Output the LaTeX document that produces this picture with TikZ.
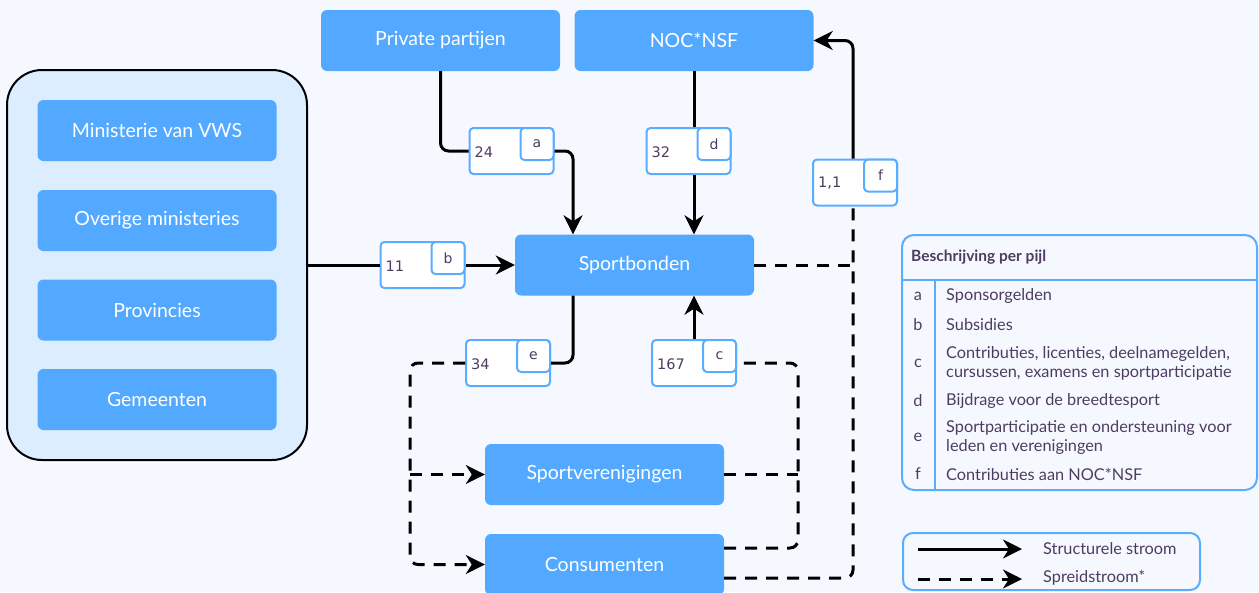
\documentclass[tikz,border=0pt]{standalone}
\usepackage{fontspec}
\setmainfont{Lato}
\newfontfamily\labf{DejaVu Sans}
\usetikzlibrary{arrows.meta}
\definecolor{boxblue}{RGB}{82,169,255}
\definecolor{bgc}{RGB}{245,249,255}
\definecolor{contfill}{RGB}{219,237,255}
\definecolor{txtc}{RGB}{78,60,96}
\definecolor{labblue}{RGB}{90,172,255}
\begin{document}
\begin{tikzpicture}[x=1pt,y=-1pt,
  box/.style={fill=boxblue,rounded corners=6pt,text=white,minimum width=239pt,minimum height=61pt,inner sep=0pt,font=\fontsize{19.5}{22}\selectfont},
  cont/.style={fill=contfill,draw=black,line width=2pt,rounded corners=35pt,minimum width=300pt,minimum height=390pt,inner sep=0pt},
  labbox/.style={fill=white,draw=labblue,line width=2pt,rounded corners=4pt,minimum width=84pt,minimum height=46pt,inner sep=0pt},
  labletter/.style={fill=white,draw=labblue,line width=2pt,rounded corners=4pt,minimum width=33pt,minimum height=32pt,inner sep=0pt,text=txtc,font=\labf\fontsize{14}{16}\selectfont},
  labnum/.style={text=txtc,inner sep=0pt,font=\labf\fontsize{14.5}{16}\selectfont},
  flow/.style={line width=3pt,rounded corners=8pt},
  dsh/.style={dash pattern=on 12pt off 9pt},
  arr/.style={-{Stealth[length=19pt,width=19pt,inset=6pt]}},
  legline/.style={draw=labblue,line width=2pt},
  legtxt/.style={text=txtc,inner sep=0pt,font=\fontsize{16.3}{19}\selectfont,align=left},
]
\fill[bgc] (0,0) rectangle (1259,592);
\useasboundingbox (0,0) rectangle (1259,592);

% main boxes
\node[box] (pp) at (440.5,40.5) {Private partijen};
\node[box] (noc) at (694,40.5) {NOC*NSF};
\node[cont] (gov) at (157,265) {};
\node[box] (vws) at (157,130.5) {Ministerie van VWS};
\node[box] (ovm) at (157,220.5) {Overige ministeries};
\node[box] (prov) at (157,310) {Provincies};
\node[box] (gem) at (157,399.5) {Gemeenten};
\node[box] (sb) at (634.5,265) {Sportbonden};
\node[box] (sv) at (604.5,474.5) {Sportverenigingen};
\node[box] (cons) at (604.5,564.5) {Consumenten};

% label boxes
\node[labbox] (l24) at (511.5,151) {};
\node[labnum,anchor=west] (n24) at ([xshift=6pt,yshift=-1pt]l24.west) {24};
\node[labletter,anchor=north east] (la) at (l24.north east) {a};

\node[labbox] (l32) at (688.5,151) {};
\node[labnum,anchor=west] (n32) at ([xshift=6pt,yshift=-1pt]l32.west) {32};
\node[labletter,anchor=north east] (ld) at (l32.north east) {d};

\node[labbox] (lf) at (855,182.5) {};
\node[labnum,anchor=west] (nf) at ([xshift=6pt,yshift=-1pt]lf.west) {1,1};
\node[labletter,anchor=north east] (lff) at (lf.north east) {f};

\node[labbox] (l11) at (422.5,265) {};
\node[labnum,anchor=west] (n11) at ([xshift=6pt,yshift=-1pt]l11.west) {11};
\node[labletter,anchor=north east] (lb) at (l11.north east) {b};

\node[labbox] (l34) at (508,363) {};
\node[labnum,anchor=west] (n34) at ([xshift=6pt,yshift=-1pt]l34.west) {34};
\node[labletter,anchor=north east] (le) at (l34.north east) {e};

\node[labbox] (l167) at (694,363) {};
\node[labnum,anchor=west] (n167) at ([xshift=6pt,yshift=-1pt]l167.west) {167};
\node[labletter,anchor=north east] (lc) at (l167.north east) {c};

% connectors
\draw[flow] (pp.south) |- (l24.west);
\draw[flow,arr] (l24.east) -| ([xshift=-61.5pt]sb.north);
\draw[flow] (noc.south) -- (noc.south |- l32.north);
\draw[flow,arr] (noc.south |- l32.south) -- (noc.south |- sb.north);
\coordinate (ftop) at ([xshift=-2pt]lf.north);
\coordinate (fbot) at ([xshift=-2pt]lf.south);
\draw[flow,arr] (ftop) |- (noc.east);
\draw[flow] (gov.east) -- (l11.west);
\draw[flow,arr] (l11.east) -- (sb.west);
\draw[flow] ([xshift=-61.5pt]sb.south) |- (l34.east);
\coordinate (split) at (410,474.5);
\draw[flow,dsh,arr] (l34.west) -| (split) |- (cons.west);
\draw[flow,dsh,arr] (split) -- (sv.west);
\draw[flow,arr] (l167.north) -- (l167.north |- sb.south);
\coordinate (ctop) at (798,363);
\draw[flow,dsh] ([yshift=16.5pt]cons.east) -| (ctop) -- (l167.east);
\draw[flow,dsh] (sv.east) -- (sv.east -| ctop);
\draw[flow,dsh] (sb.east) -- (sb.east -| fbot);
\draw[flow,dsh] ([yshift=-13.5pt]cons.east) -| (fbot);

% legend table
\draw[legline,rounded corners=12pt] (902,235) rectangle (1257,490);
\draw[legline] (902,280) -- (1257,280);
\draw[legline] (935,280) -- (935,490);
\node[legtxt,anchor=west,font=\bfseries\fontsize{15.5}{18}\selectfont] (lh) at (911,257.5) {Beschrijving per pijl};
\node[legtxt] (ka) at (918,296) {a};
\node[legtxt,anchor=west] (ta) at (946,296) {Sponsorgelden};
\node[legtxt] (kb) at (918,325) {b};
\node[legtxt,anchor=west] (tb) at (946,325) {Subsidies};
\node[legtxt] (kc) at (918,363.5) {c};
\node[legtxt,anchor=west] (tc) at (946,363.5) {Contributies, licenties, deelnamegelden,\\cursussen, examens en sportparticipatie};
\node[legtxt] (kd) at (918,401) {d};
\node[legtxt,anchor=west] (td) at (946,401) {Bijdrage voor de breedtesport};
\node[legtxt] (ke) at (918,437.5) {e};
\node[legtxt,anchor=west] (te) at (946,437.5) {Sportparticipatie en ondersteuning voor\\leden en verenigingen};
\node[legtxt] (kf) at (918,474) {f};
\node[legtxt,anchor=west] (tf) at (946,474) {Contributies aan NOC*NSF};

% legend arrows
\draw[legline,rounded corners=10pt] (903,533) rectangle (1200,590);
\coordinate (s1) at (918,549);
\coordinate (s2) at (1022,549);
\coordinate (d1) at (918,579);
\coordinate (d2) at (1022,579);
\draw[flow,arr] (s1) -- (s2);
\draw[flow,dsh,arr] (d1) -- (d2);
\node[legtxt,anchor=west,font=\fontsize{16.3}{18}\selectfont] (ls) at (1043,549) {Structurele stroom};
\node[legtxt,anchor=west,font=\fontsize{16.3}{18}\selectfont] (ld2) at (1043,578) {Spreidstroom*};
\end{tikzpicture}
\end{document}
